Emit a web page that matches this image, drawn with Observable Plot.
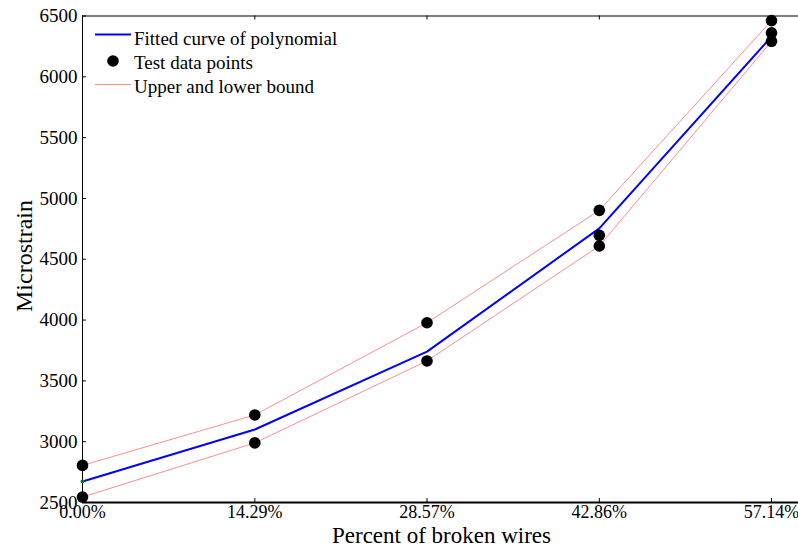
<!DOCTYPE html>
<html>
<head>
<meta charset="utf-8">
<script src="https://cdn.jsdelivr.net/npm/d3@7"></script>
<script src="https://cdn.jsdelivr.net/npm/@observablehq/plot@0.6"></script>
<style>
  html, body { margin: 0; padding: 0; background: #fff; overflow: hidden; }
  #chart svg { display: block; }
</style>
</head>
<body>
<div id="chart"></div>
<script>
// ---- data ----
const xPercent = [0, 14.29, 28.57, 42.86, 57.14];
const xTickLabels = ["0.00%", "14.29%", "28.57%", "42.86%", "57.14%"];
const yTicks = [2500, 3000, 3500, 4000, 4500, 5000, 5500, 6000, 6500];
const fitted = [2673, 3100, 3740, 4754, 6330];
const upperBound = [2805, 3220, 3978, 4902, 6462];
const lowerBound = [2545, 2990, 3664, 4609, 6292];
const testX = [0, 0, 14.29, 14.29, 28.57, 28.57, 42.86, 42.86, 42.86, 57.14, 57.14, 57.14];
const testY = [2805, 2545, 3220, 2990, 3978, 3664, 4902, 4697, 4609, 6462, 6361, 6292];
const legendLabels = ["Fitted curve of polynomial", "Test data points", "Upper and lower bound"];
const xTitle = "Percent of broken wires";
const yTitle = "Microstrain";

const fitData = xPercent.map((x, i) => ({x, y: fitted[i]}));
const upData = xPercent.map((x, i) => ({x, y: upperBound[i]}));
const loData = xPercent.map((x, i) => ({x, y: lowerBound[i]}));
const testData = testX.map((x, i) => ({x, y: testY[i]}));

const W = 798, H = 551;
const mL = 82, mT = 15.5, mB = 49, mR = -7.5;
const frameW = W - mL - mR, frameH = H - mT - mB;
const font = "Liberation Serif, Times New Roman, serif";
const tickFont = 19, xTickFont = 18, titleFont = 23;

const chart = Plot.plot({
  width: W, height: H,
  marginLeft: mL, marginTop: mT, marginBottom: mB, marginRight: mR,
  style: {fontFamily: font, fontSize: tickFont + "px", color: "#000", background: "#fff"},
  x: {domain: [0, 60]},
  y: {domain: [2500, 6500]},
  marks: [
    Plot.axisX({ticks: xPercent, tickFormat: d => xTickLabels[xPercent.indexOf(d)], tickSize: 0, tickPadding: 3, label: null, fontSize: xTickFont}),
    Plot.axisY({ticks: yTicks, tickSize: 0, tickPadding: 5, tickFormat: d => String(d), label: null, fontSize: tickFont}),
    Plot.tickX(xPercent, {x: d => d, insetTop: frameH - 4, stroke: "#000"}),
    Plot.tickX(xPercent, {x: d => d, insetBottom: frameH - 4, stroke: "#000"}),
    Plot.tickY(yTicks, {y: d => d, insetRight: frameW - 4, stroke: "#000"}),
    Plot.frame({stroke: "#000", strokeWidth: 1}),
    Plot.ruleY([2500], {stroke: "#000", strokeWidth: 2}),
    Plot.line(upData, {x: "x", y: "y", stroke: "#ff8c8c", strokeWidth: 1}),
    Plot.line(loData, {x: "x", y: "y", stroke: "#ff8c8c", strokeWidth: 1}),
    Plot.line(fitData, {x: "x", y: "y", stroke: "#0000ff", strokeWidth: 2}),
    Plot.dot(testData, {x: "x", y: "y", r: 5.8, fill: "#000", stroke: "none"}),
    Plot.dot(fitData.slice(0, 1), {x: "x", y: "y", r: 2, fill: "#008000", stroke: "none"})
  ]
});

document.getElementById("chart").appendChild(chart);

const svg = d3.select(chart);

// ---- axis titles ----
svg.append("text")
  .attr("x", 441.5).attr("y", 543)
  .attr("text-anchor", "middle").attr("font-family", font).attr("font-size", titleFont).attr("fill", "#000")
  .text(xTitle);
svg.append("text")
  .attr("transform", "translate(32,256) rotate(-90)")
  .attr("text-anchor", "middle").attr("font-family", font).attr("font-size", 24).attr("fill", "#000")
  .text(yTitle);

// ---- legend (inside plot, top-left) ----
const lg = svg.append("g").attr("font-family", font).attr("font-size", tickFont).attr("fill", "#000").attr("text-anchor", "start");
const lx0 = mL + 13, lx1 = mL + 49, tx = mL + 52;
lg.append("line").attr("x1", lx0).attr("x2", lx1).attr("y1", 34.5).attr("y2", 34.5).attr("stroke", "#0000ff").attr("stroke-width", 2);
lg.append("text").attr("x", tx).attr("y", 44.5).text(legendLabels[0]);
lg.append("circle").attr("cx", (lx0 + lx1) / 2).attr("cy", 61).attr("r", 5.8).attr("fill", "#000");
lg.append("text").attr("x", tx).attr("y", 68.5).text(legendLabels[1]);
lg.append("line").attr("x1", lx0).attr("x2", lx1).attr("y1", 84.5).attr("y2", 84.5).attr("stroke", "#ff8c8c").attr("stroke-width", 1);
lg.append("text").attr("x", tx).attr("y", 93).text(legendLabels[2]);
</script>
</body>
</html>
